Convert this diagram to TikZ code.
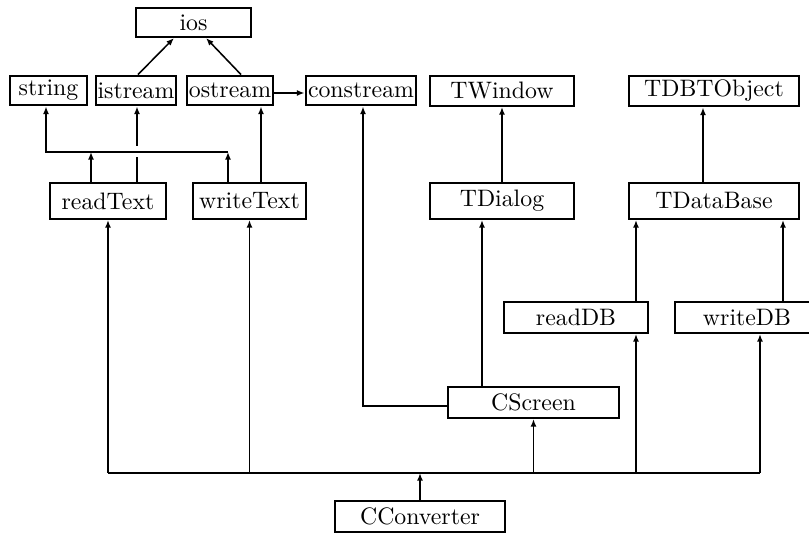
\documentclass[tikz,border=0pt]{standalone}
\usepackage{tikz}
\usetikzlibrary{calc,arrows.meta}
\tikzset{
  cls/.style={draw,line width=0.85pt,inner sep=0pt},
  heavy/.style={line width=1.2pt},
  wd/.style={minimum width=#1*0.42pt},
  ht/.style={minimum height=#1*0.42pt},
  >={Latex[length=3.2pt,width=2.5pt]},
}

\begin{document}
\begin{tikzpicture}[x=0.42pt,y=-0.42pt,line width=0.65pt]
  \useasboundingbox (0,0) rectangle (809,533);
  % classes
  \node[cls,wd=115,ht=29]       (ios)        at (193.5,22.5) {ios};
  \node[cls,heavy,wd=77,ht=29]  (string)     at (48.5,90.5)  {string};
  \node[cls,heavy,wd=80,ht=29]  (istream)    at (136,90.5)   {istream};
  \node[cls,heavy,wd=86,ht=29]  (ostream)    at (230,90.5)   {ostream};
  \node[cls,heavy,wd=110,ht=29] (constream)  at (361,90.5)   {constream};
  \node[cls,wd=144,ht=30]       (TWindow)    at (502,91)     {TWindow};
  \node[cls,heavy,wd=170,ht=30] (TDBTObject) at (714,91)     {TDBTObject};
  \node[cls,wd=116,ht=36]       (readText)   at (108,201)    {readText};
  \node[cls,wd=113,ht=36]       (writeText)  at (249.5,201)  {writeText};
  \node[cls,wd=144,ht=36]       (TDialog)    at (502,201)    {TDialog};
  \node[cls,wd=170,ht=36]       (TDataBase)  at (714,201)    {TDataBase};
  \node[cls,wd=144,ht=31]       (readDB)     at (576,317.5)  {readDB};
  \node[cls,wd=144,ht=31]       (writeDB)    at (747,317.5)  {writeDB};
  \node[cls,wd=171,ht=31]       (CScreen)    at (533.5,402.5) {CScreen};
  \node[cls,wd=170,ht=31]       (CConverter) at (420,516.5)  {CConverter};

  % junctions and ports
  \coordinate (jstr) at ($(string.south)+(-2.5,45.5)$);
  \coordinate (jbus) at ($(CConverter.north)+(0,-27)$);
  \coordinate (rt-s) at ($(readText.north)+(-17,0)$);
  \coordinate (rt-i) at ($(readText.north)+(29,0)$);
  \coordinate (wt-s) at ($(writeText.north)+(-21.5,0)$);
  \coordinate (wt-o) at ($(writeText.north)+(11.5,0)$);
  \coordinate (cs-d) at ($(CScreen.north)+(-51.5,0)$);
  \coordinate (rdb)  at ($(readDB.north)+(60,0)$);
  \coordinate (wdb)  at ($(writeDB.north)+(36,0)$);
  \coordinate (wdb-in) at ($(writeDB.south)+(13,0)$);

  \path[->]
    ($(istream.north)+(2,0)$)   edge ($(ios.south)+(-19.5,0)$)
    ($(ostream.north)+(11,0)$)  edge ($(ios.south)+(12.5,0)$)
    ($(ostream.east)+(0,2.5)$)  edge ($(constream.west)+(0,2.5)$)
    (rt-s) edge[very thick] (rt-s |- jstr)
    (wt-s) edge[thick] (wt-s |- jstr)
    (wt-o) edge[very thick] (wt-o |- ostream.south)
    (TDialog.north) edge (TWindow.south)
    (cs-d) edge[very thick] (cs-d |- TDialog.south)
    ($(TDataBase.north)+(-11,0)$) edge[very thick] ($(TDBTObject.south)+(-11,0)$)
    (rdb) edge (rdb |- TDataBase.south)
    (wdb) edge (wdb |- TDataBase.south)
    (CConverter.north) edge[thick] (jbus)
    (readText.south |- jbus) edge[very thick] (readText.south)
    (writeText.south |- jbus) edge (writeText.south)
    (CScreen.south |- jbus) edge (CScreen.south)
    (rdb |- jbus) edge (rdb |- readDB.south)
    (wdb-in |- jbus) edge (wdb-in);

  % string bar, istream crossing, constream hook
  \draw[->] (wt-s |- jstr) -- (jstr) -- (jstr |- string.south);
  \draw (rt-i) -- ($(rt-i |- jstr)+(0,5)$);
  \draw[->] ($(rt-i |- jstr)+(0,-6)$) -- (rt-i |- istream.south);
  \draw[->,thick] ($(CScreen.west)+(0,3.5)$) -| ($(constream.south)+(2,0)$);
  \draw[thick] (readText.south |- jbus) -- (wdb-in |- jbus);
\end{tikzpicture}
\end{document}
